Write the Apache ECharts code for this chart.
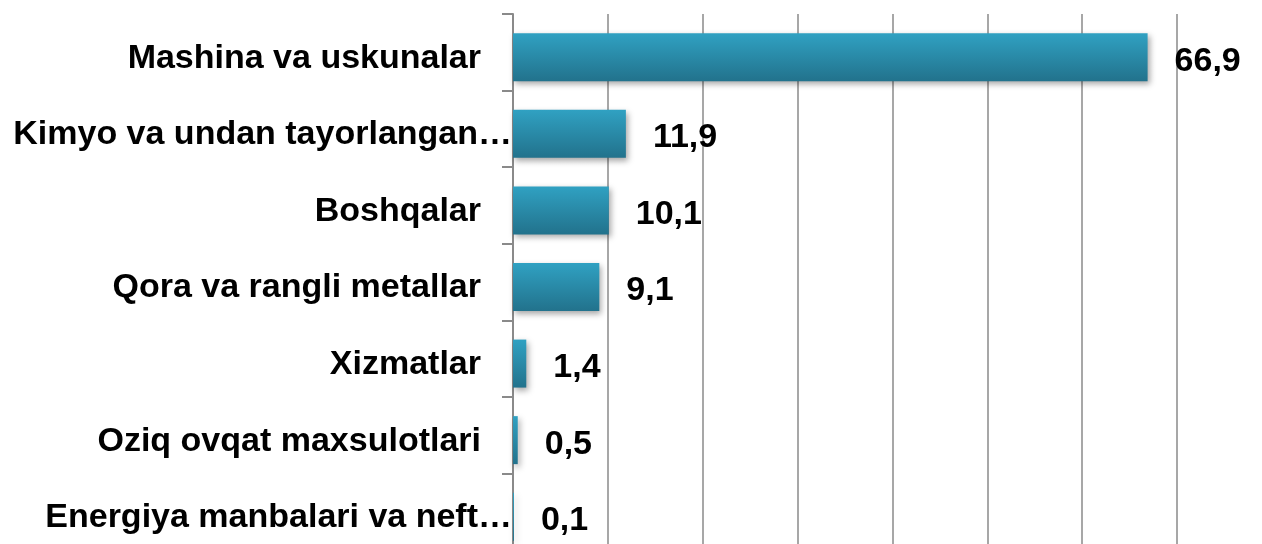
<!DOCTYPE html>
<html>
<head>
<meta charset="utf-8">
<script src="https://cdn.jsdelivr.net/npm/echarts@6/dist/echarts.min.js"></script>
<style>
html,body{margin:0;padding:0;background:#fff;}
#chart{width:1262px;height:544px;}
</style>
</head>
<body>
<div id="chart"></div>
<script>
const categories = [
  "Mashina va uskunalar",
  "Kimyo va undan tayorlangan…",
  "Boshqalar",
  "Qora va rangli metallar",
  "Xizmatlar",
  "Oziq ovqat maxsulotlari",
  "Energiya manbalari va neft…"
];
const values = [66.9, 11.9, 10.1, 9.1, 1.4, 0.5, 0.1];
const axisMin = 0, axisMax = 70, axisStep = 10;

const font = "'Liberation Sans', Arial, sans-serif";
const gray = '#8a8a8a';
const chart = echarts.init(document.getElementById('chart'), null, {renderer: 'canvas'});
chart.setOption({
  backgroundColor: '#ffffff',
  animation: false,
  grid: [
    {left: 513, width: 664, top: 14, height: 536, containLabel: false, outerBoundsMode: 'none'},
    {left: 513, width: 664, top: 19, height: 536, containLabel: false, outerBoundsMode: 'none'}
  ],
  xAxis: [
    {gridIndex: 0, type: 'value', min: axisMin, max: axisMax, interval: axisStep,
     axisLine: {show: false}, axisTick: {show: false}, axisLabel: {show: false},
     splitLine: {show: true, lineStyle: {color: gray, width: 1.5}}},
    {gridIndex: 1, type: 'value', min: axisMin, max: axisMax, interval: axisStep,
     axisLine: {show: false}, axisTick: {show: false}, axisLabel: {show: false},
     splitLine: {show: false}}
  ],
  yAxis: [
    {gridIndex: 0, type: 'category', inverse: true, data: categories,
     axisLine: {show: true, lineStyle: {color: gray, width: 2}},
     axisTick: {show: true, length: 11, lineStyle: {color: gray, width: 2}},
     axisLabel: {show: true, margin: 1, fontSize: 34, fontWeight: 'bold', color: '#000',
                 fontFamily: font, padding: [12, 0, 0, 0],
                 formatter: v => v.endsWith('…') ? '{t|' + v + '}' : '{n|' + v + '}',
                 rich: {
                   t: {fontSize: 34, fontWeight: 'bold', color: '#000', fontFamily: font},
                   n: {fontSize: 34, fontWeight: 'bold', color: '#000', fontFamily: font, padding: [0, 31, 0, 0]}
                 }}},
    {gridIndex: 1, type: 'category', inverse: true, data: categories,
     axisLine: {show: false}, axisTick: {show: false}, axisLabel: {show: false}}
  ],
  series: [{
    type: 'bar',
    xAxisIndex: 1, yAxisIndex: 1,
    data: values,
    barWidth: 48,
    itemStyle: {
      color: new echarts.graphic.LinearGradient(0, 0, 0, 1, [
        {offset: 0, color: '#30a1c2'},
        {offset: 1, color: '#22728c'}
      ]),
      shadowColor: 'rgba(0,0,0,0.35)',
      shadowBlur: 6,
      shadowOffsetX: 2,
      shadowOffsetY: 3
    },
    label: {
      show: true, position: 'right', distance: 27, offset: [0, 4],
      fontSize: 34, fontWeight: 'bold', color: '#000', fontFamily: font,
      formatter: p => p.value.toFixed(1).replace('.', ',')
    }
  }]
});
</script>
</body>
</html>
